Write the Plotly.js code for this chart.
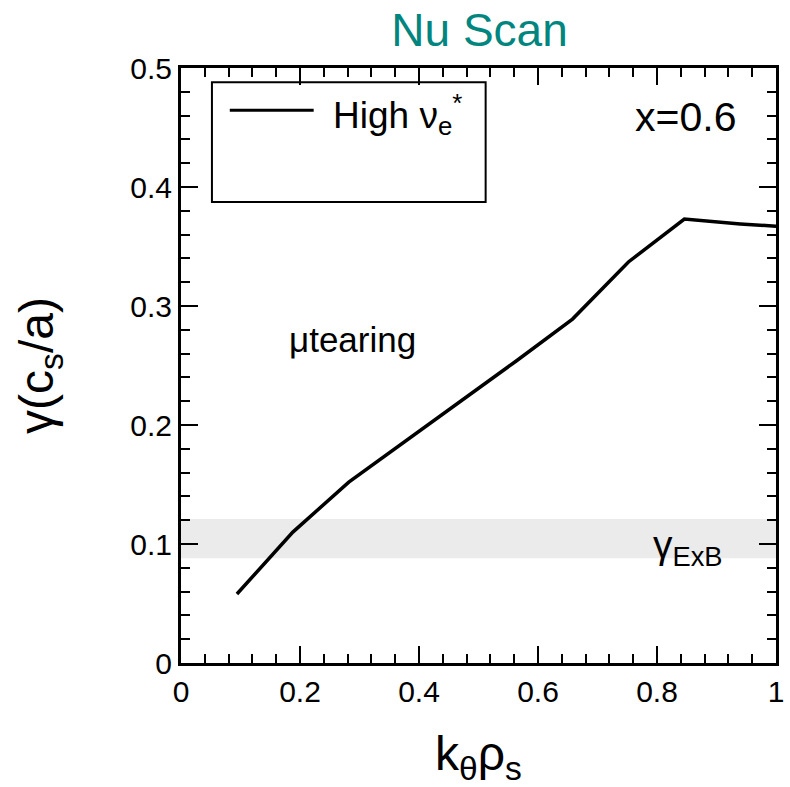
<!DOCTYPE html>
<html>
<head>
<meta charset="utf-8">
<script src="https://cdn.plot.ly/plotly-3.0.1.min.js"></script>
<style>html,body{margin:0;padding:0;background:#fff;}#chart{width:790px;height:787px;}</style>
</head>
<body>
<div id="chart"></div>
<script>
// Data
const kTheta = [0.094, 0.188, 0.282, 0.376, 0.470, 0.564, 0.658, 0.752, 0.846, 0.940, 1.034];
const gammaHighNu = [0.058, 0.110, 0.152, 0.186, 0.220, 0.254, 0.289, 0.337, 0.373, 0.369, 0.366];
const exbBand = [0.088, 0.121];
const xTicks = [0, 0.2, 0.4, 0.6, 0.8, 1];
const yTicks = [0, 0.1, 0.2, 0.3, 0.4, 0.5];

const FONT = "Liberation Sans, Arial, Helvetica, sans-serif";

const trace = {
  x: kTheta, y: gammaHighNu, type: 'scatter', mode: 'lines',
  line: {color: '#000', width: 3.5}, showlegend: false, cliponaxis: true
};

const axisCommon = {
  showgrid: false, zeroline: false, showline: true, linecolor: '#000', linewidth: 3,
  ticks: 'inside', ticklen: 17, tickwidth: 2, tickcolor: '#000', mirror: 'allticks',
  tickfont: {family: FONT, size: 30, color: '#000'}
};

const layout = {
  width: 790, height: 787,
  margin: {l: 181, r: 13.5, t: 68, b: 124},
  paper_bgcolor: '#fff', plot_bgcolor: '#fff',
  font: {family: FONT, color: '#000'},
  title: {text: 'Nu Scan', font: {family: FONT, size: 46, color: '#00857f'},
          x: 0.607, xanchor: 'center', xref: 'container', y: 0.962, yanchor: 'middle', yref: 'container'},
  xaxis: Object.assign({}, axisCommon, {
    range: [0, 1], tickvals: xTicks, ticktext: xTicks.map(String),
    minor: {dtick: 0.04, tick0: 0, ticklen: 9, tickwidth: 2, tickcolor: '#000', ticks: 'inside'},
    title: {text: 'k<sub>θ</sub>ρ<sub>s</sub>', font: {family: FONT, size: 48}, standoff: 30}
  }),
  yaxis: Object.assign({}, axisCommon, {
    range: [0, 0.5], tickvals: yTicks, ticktext: yTicks.map(String),
    minor: {dtick: 0.02, tick0: 0, ticklen: 9, tickwidth: 2, tickcolor: '#000', ticks: 'inside'},
    title: {text: 'γ(c<sub>s</sub>/a)', font: {family: FONT, size: 48}, standoff: 62}
  }),
  shapes: [
    {type: 'rect', xref: 'paper', yref: 'y', x0: 0, x1: 1, y0: exbBand[0], y1: exbBand[1],
     fillcolor: '#ebebeb', line: {width: 0}, layer: 'below'},
    {type: 'rect', xref: 'paper', yref: 'paper', x0: 0.052, x1: 0.512, y0: 0.775, y1: 0.976,
     fillcolor: 'rgba(255,255,255,0)', line: {color: '#000', width: 2}},
    {type: 'line', xref: 'paper', yref: 'paper', x0: 0.082, x1: 0.223, y0: 0.929, y1: 0.929,
     line: {color: '#000', width: 3}}
  ],
  annotations: [
    {text: 'High ν<sub>e</sub><sup>*</sup>', xref: 'paper', yref: 'paper', x: 0.252, y: 0.922,
     xanchor: 'left', yanchor: 'middle', showarrow: false, font: {family: FONT, size: 37}},
    {text: 'x=0.6', xref: 'paper', yref: 'paper', x: 0.848, y: 0.918,
     xanchor: 'center', yanchor: 'middle', showarrow: false, font: {family: FONT, size: 41}},
    {text: 'μtearing', xref: 'x', yref: 'y', x: 0.289, y: 0.272,
     xanchor: 'center', yanchor: 'middle', showarrow: false, font: {family: FONT, size: 35}},
    {text: 'γ<sub>ExB</sub>', xref: 'paper', yref: 'y', x: 0.79, y: 0.097,
     xanchor: 'left', yanchor: 'middle', showarrow: false, font: {family: FONT, size: 39}}
  ]
};

Plotly.newPlot('chart', [trace], layout, {displayModeBar: false, staticPlot: true});
</script>
</body>
</html>
